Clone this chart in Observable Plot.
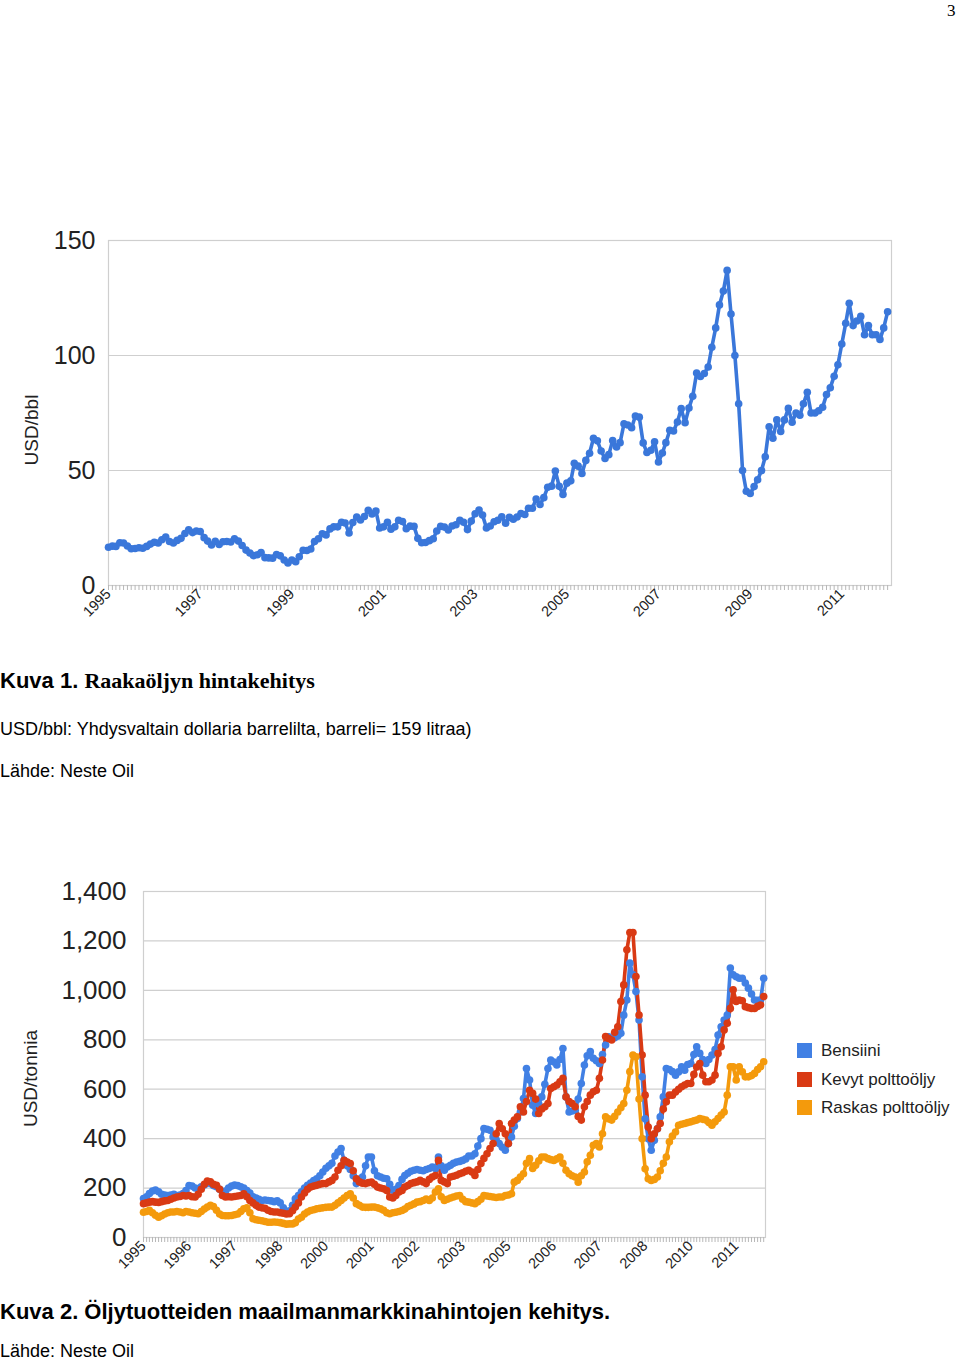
<!DOCTYPE html>
<html><head><meta charset="utf-8">
<script src="https://cdn.jsdelivr.net/npm/d3@7"></script>
<script src="https://cdn.jsdelivr.net/npm/@observablehq/plot@0.6"></script>
<style>
html,body{margin:0;padding:0;background:#fff;}
body{width:960px;height:1362px;position:relative;overflow:hidden;font-family:"Liberation Sans",Arial,sans-serif;color:#000;}
.abs{position:absolute;white-space:nowrap;line-height:1;}
.sq{position:absolute;width:15px;height:15px;}
.lg{position:absolute;font-size:17px;color:#222;line-height:1;white-space:nowrap;}
</style></head><body>
<div class="abs" style="left:947px;top:2px;font-family:'Liberation Serif',serif;font-size:17px;">3</div>
<div id="chart1" class="abs" style="left:0;top:220px"></div>
<div class="abs" style="left:0;top:670px;font-size:22px;"><span style="font-weight:bold">Kuva 1. </span><span style="font-family:'Liberation Serif',serif;font-weight:bold">Raakaöljyn hintakehitys</span></div>
<div class="abs" style="left:0;top:720px;font-size:18px;">USD/bbl: Yhdysvaltain dollaria barrelilta, barreli= 159 litraa)</div>
<div class="abs" style="left:0;top:762px;font-size:18px;">Lähde: Neste Oil</div>
<div id="chart2" class="abs" style="left:0;top:870px"></div>
<div id="legend"></div>
<div class="abs" style="left:0;top:1301px;font-size:22px;font-weight:bold;">Kuva 2. Öljytuotteiden maailmanmarkkinahintojen kehitys.</div>
<div class="abs" style="left:0;top:1342px;font-size:18px;line-height:18px;">Lähde: Neste Oil</div>
<script>
// ---- data: monthly values from Jan 1995 ----
const startYear = 1995;
const crudeUSDbbl = [
16.6,17.1,17.0,18.6,18.5,17.2,16.0,16.1,16.4,16.2,17.0,18.0,
18.8,18.5,19.9,21.1,19.1,18.5,19.6,20.5,22.6,24.2,23.0,23.7,
23.5,20.8,19.3,17.6,19.2,17.8,19.0,19.1,18.9,20.3,19.3,17.4,
15.4,14.1,13.0,13.4,14.3,12.1,12.0,11.9,13.5,12.9,11.1,9.8,
11.1,10.3,12.5,15.3,15.2,15.9,19.1,20.3,22.5,22.0,24.6,25.5,
25.5,27.5,27.2,22.8,27.4,29.8,28.5,30.0,32.7,31.1,32.4,25.0,
25.5,27.5,24.5,25.5,28.4,27.8,24.7,25.8,25.7,20.5,18.6,18.7,
19.5,20.3,23.7,25.7,25.4,24.1,25.9,26.4,28.3,27.5,24.3,28.0,
31.2,32.8,30.6,25.0,25.9,27.7,28.4,29.9,27.1,29.6,28.8,29.8,
31.3,30.9,33.6,33.6,37.6,35.2,38.2,42.7,43.2,49.8,43.1,39.6,
44.5,45.5,53.1,51.9,48.7,54.4,57.5,64.0,62.9,58.5,55.2,56.9,
63.0,60.2,62.1,70.3,69.8,68.6,73.7,73.2,62.0,57.8,58.8,62.5,
53.7,57.6,62.1,67.5,67.2,71.1,76.9,70.8,77.2,82.3,92.4,90.9,
92.2,95.0,103.6,112,122,128,137,118,100,79,50,41,
40,43,46,50,56,69,64,72,67,72,77,71,
75,74,79,84,75,75,76,77.5,83,86,91,96,
105,114,122.7,113,115,117,109,113,109,109,107,112,
119];
const bensiini = [
158,165,178,188,192,185,175,172,170,172,175,170,
172,178,190,210,208,200,198,205,212,222,218,210,
205,195,185,188,200,208,212,210,205,200,190,180,
165,160,155,150,152,150,148,145,148,140,120,105,
108,130,157,170,185,200,211,220,230,238,250,265,
280,290,300,330,346,360,312,290,275,250,218,235,
245,290,326,326,270,250,245,240,238,215,191,195,
210,235,251,260,268,272,275,272,270,275,279,285,
279,326,290,272,285,292,300,305,308,312,318,330,
330,339,370,400,441,438,434,407,395,380,365,353,
380,407,450,481,508,562,684,637,535,502,540,569,
620,684,718,710,698,720,765,569,508,512,515,560,
623,698,735,752,725,715,704,740,779,812,805,808,
815,826,900,961,1110,1063,995,880,650,480,400,353,
393,440,488,569,684,680,671,657,670,691,677,700,
704,740,772,745,720,704,720,738,760,819,853,880,
900,1090,1063,1055,1049,1049,1030,1009,985,961,960,961,
1049];
const kevytPolttooljy = [
137,140,143,145,143,142,145,148,150,155,160,164,
166,170,168,170,165,164,175,195,215,228,225,215,
211,195,170,164,165,164,166,168,170,177,165,150,
140,130,123,120,118,110,105,103,103,100,98,95,
96,108,123,140,164,180,195,204,208,211,215,218,
218,225,231,245,272,290,312,305,299,270,238,225,
220,218,222,224,215,204,200,197,190,164,160,170,
184,190,204,210,218,222,225,231,225,218,235,245,
251,312,231,225,218,245,248,252,258,262,268,272,
265,251,275,299,320,339,360,380,420,461,440,420,
380,461,475,488,529,508,550,596,583,560,502,520,
529,542,603,610,617,630,644,569,550,542,529,490,
475,529,550,576,590,596,644,718,813,805,799,830,
853,955,1022,1164,1234,1234,1056,900,738,576,447,400,
420,440,461,520,549,576,576,589,600,610,617,623,
623,660,690,704,657,630,630,637,657,745,772,840,
867,927,1002,955,961,958,934,930,927,927,935,941,
975];
const raskasPolttooljy = [
102,105,110,100,90,82,88,95,100,103,103,105,
103,100,105,103,100,98,96,105,115,123,130,125,
110,95,89,88,88,89,92,95,105,116,120,100,
76,72,70,68,65,62,62,63,62,60,57,54,
55,55,60,75,82,95,103,109,112,116,118,120,
122,123,123,130,140,150,160,170,177,160,137,130,
123,122,122,123,123,120,116,110,100,96,100,102,
105,109,115,125,130,136,143,145,150,156,150,160,
184,197,165,150,155,160,164,168,170,155,145,143,
140,137,145,155,170,168,166,164,162,164,164,170,
172,177,224,231,245,258,300,319,279,292,310,326,
326,319,315,312,318,326,300,272,258,250,245,224,
250,265,306,333,373,380,366,420,488,480,475,490,
508,525,542,596,671,738,731,560,400,278,238,231,
235,245,270,300,326,387,410,427,454,458,461,465,
468,472,475,481,478,475,465,454,468,481,495,508,
576,691,691,637,691,670,650,650,655,664,680,691,
711];
const seriesNames = ["Bensiini", "Kevyt polttoöljy", "Raskas polttoöljy"];
const seriesColors = ["#4180e4", "#d93a14", "#f49a0c"];
const chart1TickYears = [1995, 1997, 1999, 2001, 2003, 2005, 2007, 2009, 2011];
const chart2TickMonths = ["1995-01","1996-04","1997-07","1998-10","2000-01","2001-04","2002-07","2003-10","2005-01","2006-04","2007-07","2008-10","2010-01","2011-04"];
const chart1YTicks = [0, 50, 100, 150];
const chart2YTicks = [0, 200, 400, 600, 800, 1000, 1200, 1400];

// ---- build ----
const monthDate = i => new Date(Date.UTC(startYear, i, 1));
const months = crudeUSDbbl.map((_, i) => monthDate(i));
const crudeData = crudeUSDbbl.map((v, i) => ({date: months[i], value: v}));
const prodData = [bensiini, kevytPolttooljy, raskasPolttooljy].flatMap((arr, s) =>
  arr.map((v, i) => ({date: monthDate(i), value: v, series: seriesNames[s]})));
const fam = "'Liberation Sans', Arial, sans-serif";
const blue1 = "#3a77da";

const c1 = Plot.plot({
  width: 960, height: 410,
  marginLeft: 108, marginRight: 69, marginTop: 20, marginBottom: 45,
  x: {type: "utc", domain: [monthDate(0), monthDate(205)], label: null},
  y: {domain: [0, 150], label: null},
  style: {fontFamily: fam, color: "#222", background: "transparent", overflow: "visible"},
  marks: [
    Plot.ruleY([50, 100, 150], {stroke: "#cfcfcf", strokeWidth: 1.2}),
    Plot.frame({stroke: "#cfcfcf", strokeWidth: 1.2}),
    Plot.axisY({ticks: chart1YTicks, tickSize: 0, tickPadding: 13, fontSize: 25, label: null}),
    Plot.axisX({ticks: months, tickSize: 5, tickFormat: () => "", stroke: "#b8b8b8", label: null}),
    Plot.axisX({ticks: chart1TickYears.map(y => new Date(Date.UTC(y, 0, 1))), tickSize: 0, tickPadding: 6,
      tickRotate: -45, tickFormat: d => String(d.getUTCFullYear()), fontSize: 14.5, label: null}),
    Plot.line(crudeData, {x: "date", y: "value", stroke: blue1, strokeWidth: 3.6}),
    Plot.dot(crudeData, {x: "date", y: "value", fill: blue1, r: 3.8}),
    Plot.text(["USD/bbl"], {text: d => d, frameAnchor: "left", textAnchor: "middle", dx: -77, dy: 17, rotate: -90, fontSize: 19, fill: "#222"})
  ]
});
document.getElementById("chart1").appendChild(c1);

const tick2 = chart2TickMonths.map(s => { const [y, m] = s.split("-").map(Number); return new Date(Date.UTC(y, m - 1, 1)); });
const c2 = Plot.plot({
  width: 960, height: 410,
  marginLeft: 143, marginRight: 195, marginTop: 21, marginBottom: 43,
  x: {type: "utc", domain: [monthDate(0), new Date(Date.UTC(2012, 0, 19))], label: null},
  y: {domain: [0, 1400], label: null},
  color: {domain: seriesNames, range: seriesColors},
  style: {fontFamily: fam, color: "#222", background: "transparent", overflow: "visible"},
  marks: [
    Plot.ruleY([200, 400, 600, 800, 1000, 1200, 1400], {stroke: "#cfcfcf", strokeWidth: 1.2}),
    Plot.frame({stroke: "#cfcfcf", strokeWidth: 1.2}),
    Plot.axisY({ticks: chart2YTicks, tickSize: 0, tickPadding: 17, fontSize: 26, tickFormat: d3.format(","), label: null}),
    Plot.axisX({ticks: months, tickSize: 5, tickFormat: () => "", stroke: "#b8b8b8", label: null}),
    Plot.axisX({ticks: tick2, tickSize: 0, tickPadding: 6, tickRotate: -45,
      tickFormat: d => String(d.getUTCFullYear()), fontSize: 14.5, label: null}),
    Plot.line(prodData, {x: "date", y: "value", z: "series", stroke: "series", strokeWidth: 3.6}),
    Plot.dot(prodData, {x: "date", y: "value", fill: "series", r: 3.8}),
    Plot.text(["USD/tonnia"], {text: d => d, frameAnchor: "left", textAnchor: "middle", dx: -113, dy: 14, rotate: -90, fontSize: 19, fill: "#222"})
  ]
});
document.getElementById("chart2").appendChild(c2);

// legend (HTML, beside chart 2)
const lg = document.getElementById("legend");
seriesNames.forEach((name, i) => {
  const top = 1043 + i * 28.5;
  const sq = document.createElement("div");
  sq.className = "sq"; sq.style.left = "797px"; sq.style.top = top + "px"; sq.style.background = seriesColors[i];
  const tx = document.createElement("div");
  tx.className = "lg"; tx.style.left = "821px"; tx.style.top = (top - 1) + "px"; tx.textContent = name;
  lg.appendChild(sq); lg.appendChild(tx);
});
</script>
</body></html>
